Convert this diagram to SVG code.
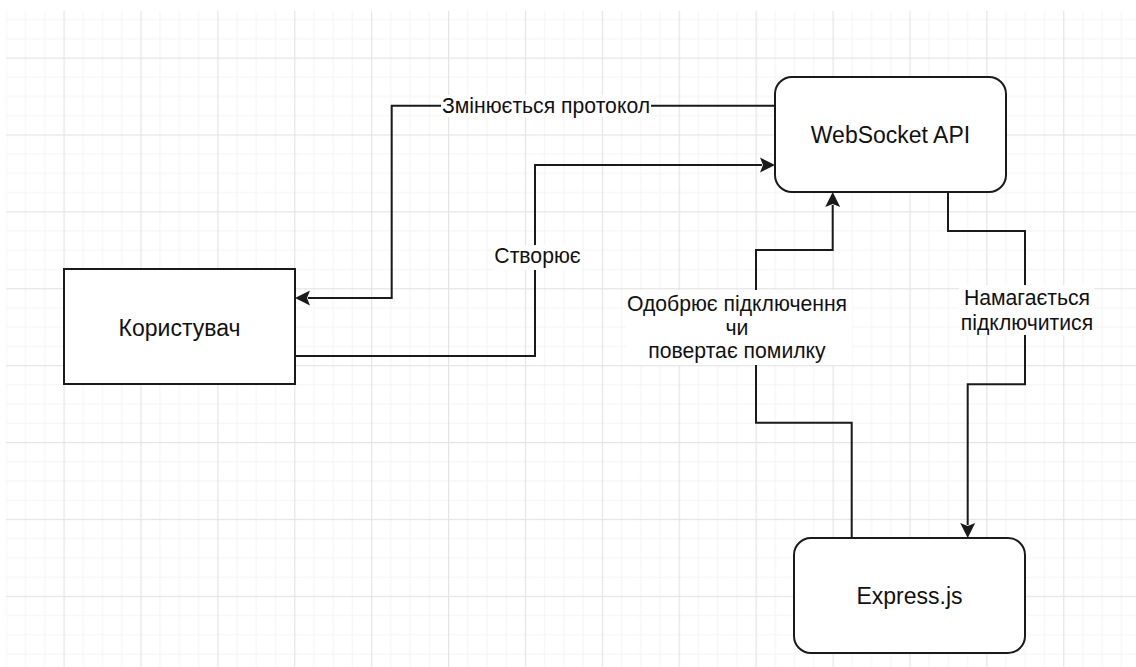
<svg xmlns="http://www.w3.org/2000/svg" width="1136" height="667" viewBox="0 0 1136 667">
  <style>
    .node { fill: #ffffff; stroke: #1a1a1a; stroke-width: 2; }
    .edge { fill: none; stroke: #1a1a1a; stroke-width: 2; }
    .lbl-bg { fill: #ffffff; }
    text { font-family: "Liberation Sans", Arial, sans-serif; fill: #111111; text-anchor: middle; }
    .ntext { font-size: 23px; }
    .etext { font-size: 21.2px; }
  </style>
  <defs>
    <!-- drawing-board grid: major cell split into 4 minor cells -->
    <pattern id="grid" patternUnits="userSpaceOnUse" x="63.5" y="57.5" width="76.9" height="76.9">
      <rect x="19.225" y="0" width="1" height="76.9" fill="#f3f3f3"/>
      <rect x="38.45" y="0" width="1" height="76.9" fill="#f3f3f3"/>
      <rect x="57.675" y="0" width="1" height="76.9" fill="#f3f3f3"/>
      <rect x="0" y="19.225" width="76.9" height="1" fill="#f3f3f3"/>
      <rect x="0" y="38.45" width="76.9" height="1" fill="#f3f3f3"/>
      <rect x="0" y="57.675" width="76.9" height="1" fill="#f3f3f3"/>
      <rect x="0" y="0" width="1.2" height="76.9" fill="#e4e4e4"/>
      <rect x="0" y="0" width="76.9" height="1.2" fill="#e4e4e4"/>
    </pattern>
    <marker id="arrow" markerUnits="userSpaceOnUse" markerWidth="16" markerHeight="16" refX="2" refY="7.5" orient="auto" overflow="visible">
      <path d="M0,0 L15,7.5 L0,15 L3,7.5 Z" fill="#1a1a1a"/>
    </marker>
  </defs>

  <rect x="0" y="0" width="1136" height="667" fill="#ffffff"/>
  <rect x="6" y="11" width="1130" height="656" fill="url(#grid)"/>

  <!-- connectors -->
  <g id="connectors">
    <path class="edge" d="M775,105.7 H391.7 V298 H308" marker-end="url(#arrow)"/>
    <path class="edge" d="M295,356 H535 V165 H762" marker-end="url(#arrow)"/>
    <path class="edge" d="M851.7,538 V422.7 H756 V250 H832.7 V205" marker-end="url(#arrow)"/>
    <path class="edge" d="M948,192 V231 H1025 V384.3 H967.7 V525" marker-end="url(#arrow)"/>

    <g id="label-protocol">
      <rect class="lbl-bg" x="441" y="95" width="210" height="22"/>
      <text class="etext" x="546" y="113">Змінюється протокол</text>
    </g>
    <g id="label-create">
      <rect class="lbl-bg" x="494" y="245" width="87" height="25"/>
      <text class="etext" x="537.5" y="263">Створює</text>
    </g>
    <g id="label-approve">
      <rect class="lbl-bg" x="626" y="290" width="226" height="75"/>
      <text class="etext" x="737" y="310.7">Одобрює підключення</text>
      <text class="etext" x="737" y="334.5">чи</text>
      <text class="etext" x="737" y="358">повертає помилку</text>
    </g>
    <g id="label-connect">
      <rect class="lbl-bg" x="959" y="285" width="135" height="50"/>
      <text class="etext" x="1027" y="305">Намагається</text>
      <text class="etext" x="1027" y="330">підключитися</text>
    </g>
  </g>

  <!-- nodes -->
  <g id="node-user">
    <rect class="node" x="64" y="269" width="231" height="115"/>
    <text class="ntext" x="179.5" y="336">Користувач</text>
  </g>
  <g id="node-websocket">
    <rect class="node" x="775" y="77" width="231" height="115" rx="17" ry="17"/>
    <text class="ntext" x="890.5" y="142.5">WebSocket API</text>
  </g>
  <g id="node-express">
    <rect class="node" x="794" y="538" width="231" height="115" rx="17" ry="17"/>
    <text class="ntext" x="909.5" y="604">Express.js</text>
  </g>
</svg>
